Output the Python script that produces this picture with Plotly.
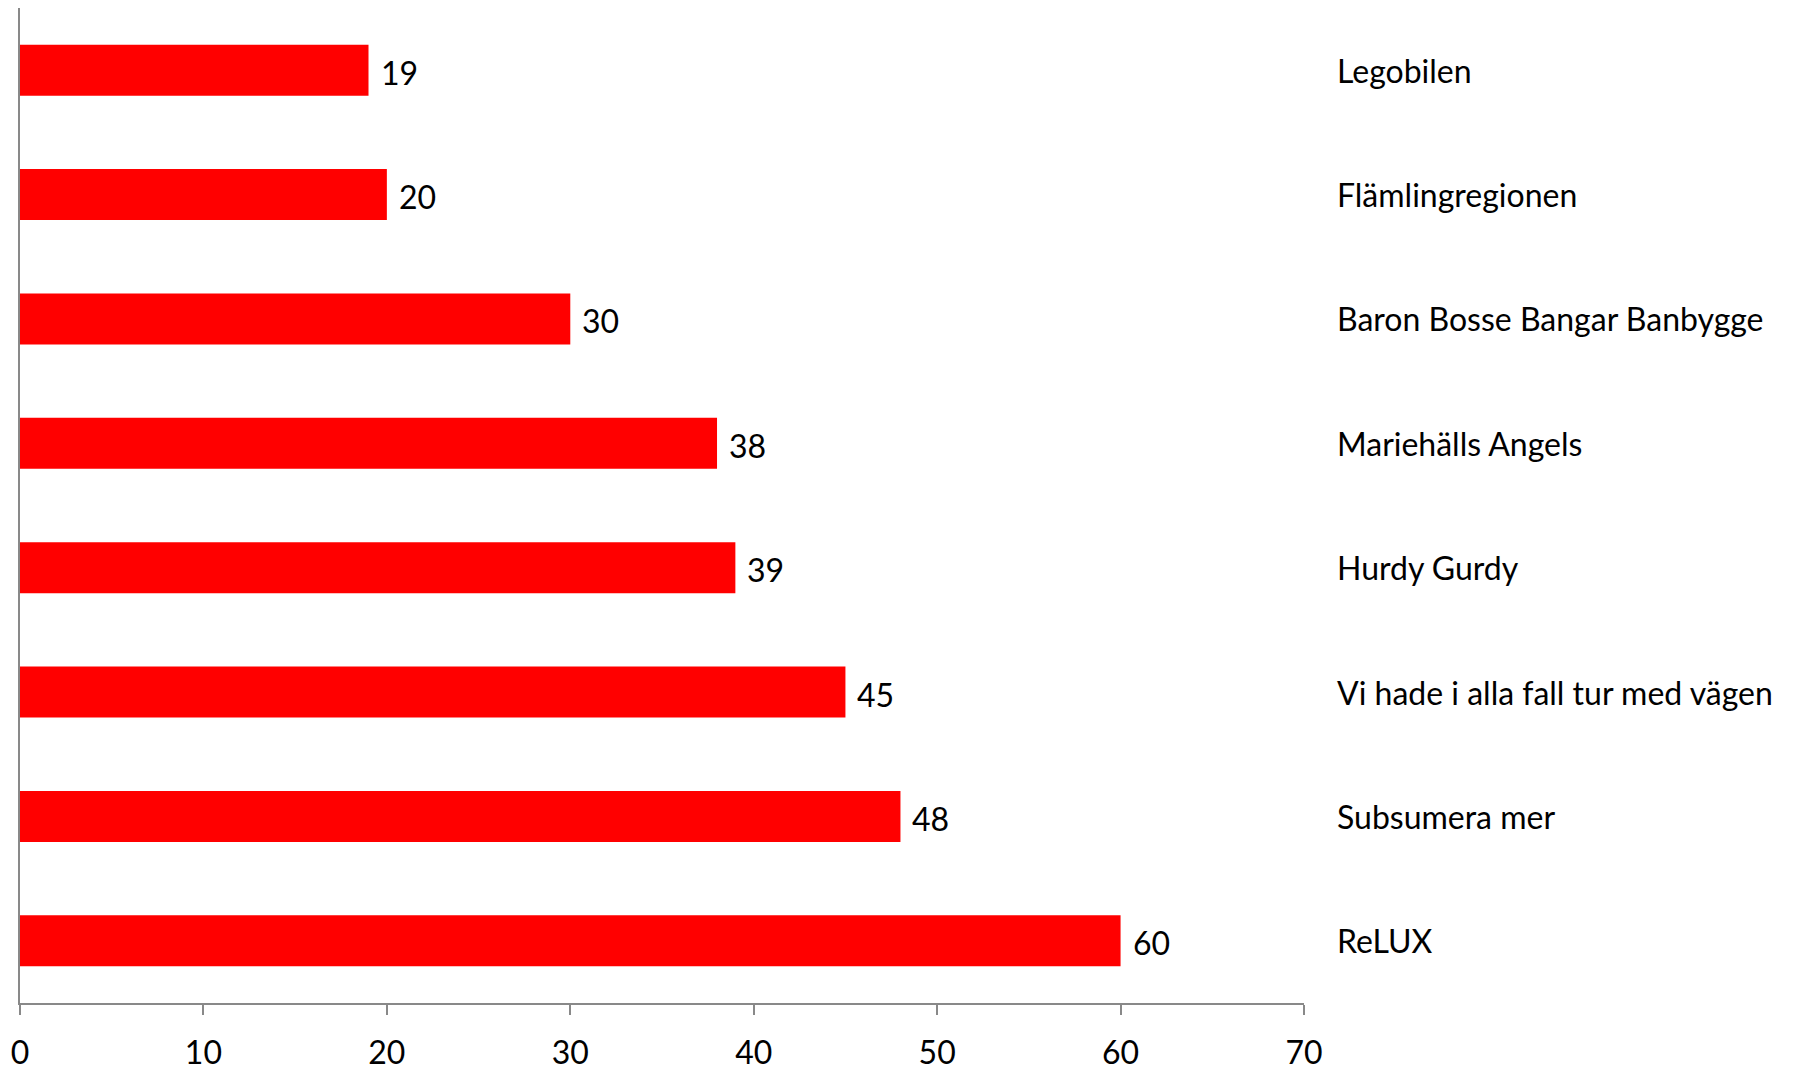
import plotly.graph_objects as go

categories = ["Legobilen", "Flämlingregionen", "Baron Bosse Bangar Banbygge",
              "Mariehälls Angels", "Hurdy Gurdy", "Vi hade i alla fall tur med vägen",
              "Subsumera mer", "ReLUX"]
values = [19, 20, 30, 38, 39, 45, 48, 60]
x_ticks = [0, 10, 20, 30, 40, 50, 60, 70]

W, H = 1796, 1069
OFF = 8  # default page body margin
L, R, T, B = 19.5 - OFF, 1304.5 - OFF, 0, 1003.5 - OFF

FONT = "Lato"
FS = 32
fig = go.Figure()
fig.add_trace(go.Bar(
    x=values, y=categories, orientation="h",
    marker=dict(color="#FF0000", line=dict(width=0)),
    hoverinfo="x+y",
))

annotations = []
for c, v in zip(categories, values):
    annotations.append(dict(
        x=v, y=c, xref="x", yref="y", text=str(v), showarrow=False,
        xanchor="left", yanchor="middle", xshift=10, yshift=-2,
        font=dict(family=FONT, size=FS, color="black"),
    ))
label_x = (1336 - 19.5) / (1304.5 - 19.5)
for c in categories:
    annotations.append(dict(
        x=label_x, y=c, xref="paper", yref="y", text=c, showarrow=False,
        xanchor="left", yanchor="middle",
        font=dict(family=FONT, size=FS, color="black"),
    ))

fig.update_layout(
    width=W, height=H,
    margin=dict(l=L, r=W - R, t=T, b=H - B, pad=0),
    paper_bgcolor="white", plot_bgcolor="white",
    showlegend=False,
    bargap=0.59,
    annotations=annotations,
    font=dict(family=FONT, size=FS, color="black"),
    xaxis=dict(
        range=[0, 70], tickvals=x_ticks, ticktext=[str(t) for t in x_ticks],
        showgrid=False, zeroline=False,
        showline=True, linecolor="#898989", linewidth=2,
        ticks="outside", ticklen=10, tickcolor="#898989", tickwidth=2,
        ticklabelstandoff=11,
        tickfont=dict(family=FONT, size=FS, color="black"),
    ),
    yaxis=dict(
        categoryorder="array", categoryarray=categories, autorange="reversed",
        showticklabels=False, showgrid=False, zeroline=False,
        showline=True, linecolor="#898989", linewidth=2, ticks="",
    ),
)

fig.write_html("out.html")
